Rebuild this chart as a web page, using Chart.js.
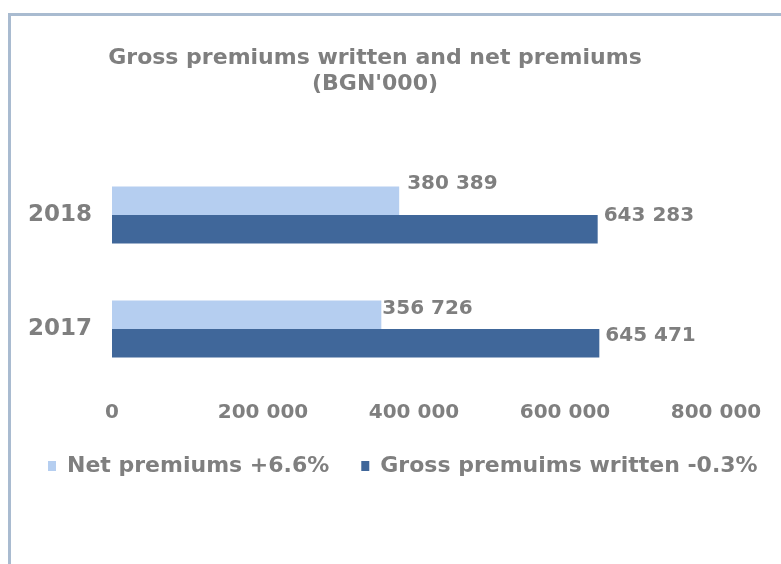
<!DOCTYPE html>
<html lang="en">
<head>
    <meta charset="UTF-8">
    <title>Gross premiums written and net premiums</title>
    <script src="https://cdn.jsdelivr.net/npm/chart.js"></script>
    <style>
        html, body {
            margin: 0;
            padding: 0;
            background: #fff;
            overflow: hidden;
            width: 781px;
            height: 564px;
        }

        #frame {
            position: absolute;
            left: 8px;
            top: 13px;
            width: 820px;
            height: 600px;
            border-top: 3px solid #a9bbd0;
            border-left: 3px solid #a9bbd0;
        }

        #wrap {
            position: absolute;
            left: 0;
            top: 0;
            width: 820px;
            height: 564px;
        }
    </style>
</head>
<body>
<div id="frame"></div>
<div id="wrap"><canvas id="premChart" width="820" height="564"></canvas></div>

<script>
    // data
    const years = ['2018', '2017'];
    const netPremiums = [380389, 356726];
    const grossPremiums = [643283, 645471];
    const seriesNames = ['Net premiums +6.6%', 'Gross premuims written -0.3%'];
    const titleLines = ['Gross premiums written and net premiums', "(BGN'000)"];
    const xTicks = [0, 200000, 400000, 600000, 800000];

    const grey = '#7f7f7f';
    const fontFamily = '"DejaVu Sans", Verdana, sans-serif';

    // label nudges (px) relative to the bar end, like the hand-placed Excel labels
    const labelShift = [
        {dx: [8, 1], dy: [-17, -6]},
        {dx: [6, 6], dy: [-13, -7]}
    ];

    function fmt(v) {
        return v.toString().replace(/\B(?=(\d{3})+(?!\d))/g, ' ');
    }

    // two-line title centred a bit left of the plot, as in the original
    const chartTitle = {
        id: 'chartTitle',
        afterDraw(chart) {
            const ctx = chart.ctx;
            ctx.save();
            ctx.font = 'bold 22px ' + fontFamily;
            ctx.fillStyle = grey;
            ctx.textAlign = 'center';
            ctx.textBaseline = 'middle';
            titleLines.forEach((line, i) => ctx.fillText(line, 375, 58 + i * 26));
            ctx.restore();
        }
    };

    // value labels next to each bar end
    const barLabels = {
        id: 'barLabels',
        afterDatasetsDraw(chart) {
            const ctx = chart.ctx;
            ctx.save();
            ctx.font = 'bold 20px ' + fontFamily;
            ctx.fillStyle = grey;
            ctx.textAlign = 'left';
            ctx.textBaseline = 'middle';
            chart.data.datasets.forEach((ds, di) => {
                const meta = chart.getDatasetMeta(di);
                meta.data.forEach((bar, i) => {
                    const s = labelShift[di];
                    ctx.fillText(fmt(ds.data[i]), bar.x + s.dx[i], bar.y + s.dy[i]);
                });
            });
            ctx.restore();
        }
    };

    const ctx = document.getElementById('premChart').getContext('2d');
    new Chart(ctx, {
        type: 'bar',
        data: {
            labels: years,
            datasets: [
                {
                    label: seriesNames[0],
                    data: netPremiums,
                    backgroundColor: '#b5cef0',
                    categoryPercentage: 0.5,
                    barPercentage: 1.0
                },
                {
                    label: seriesNames[1],
                    data: grossPremiums,
                    backgroundColor: '#40679a',
                    categoryPercentage: 0.5,
                    barPercentage: 1.0
                }
            ]
        },
        options: {
            indexAxis: 'y',
            responsive: false,
            animation: false,
            layout: {
                padding: {left: 16, right: 0, top: 158, bottom: 77}
            },
            scales: {
                x: {
                    min: 0,
                    max: 800000,
                    afterBuildTicks: axis => {
                        axis.ticks = xTicks.map(v => ({value: v}));
                    },
                    afterFit: axis => {
                        axis.height = 37;
                        axis.paddingRight = 104;
                    },
                    grid: {display: false, drawTicks: false},
                    border: {display: false},
                    ticks: {
                        color: grey,
                        padding: 15,
                        font: {family: fontFamily, size: 20, weight: 'bold'},
                        maxRotation: 0,
                        callback: v => fmt(v)
                    }
                },
                y: {
                    grid: {display: false, drawTicks: false},
                    border: {display: false},
                    afterFit: axis => {
                        axis.width = 96;
                    },
                    ticks: {
                        color: grey,
                        padding: 20,
                        font: {family: fontFamily, size: 23, weight: 'bold'}
                    }
                }
            },
            plugins: {
                title: {display: false},
                legend: {
                    position: 'bottom',
                    align: 'start',
                    labels: {
                        color: grey,
                        boxWidth: 8,
                        boxHeight: 10,
                        padding: 32,
                        font: {family: fontFamily, size: 22, weight: 'bold'}
                    }
                },
                tooltip: {enabled: false}
            }
        },
        plugins: [chartTitle, barLabels]
    });
</script>
</body>
</html>
